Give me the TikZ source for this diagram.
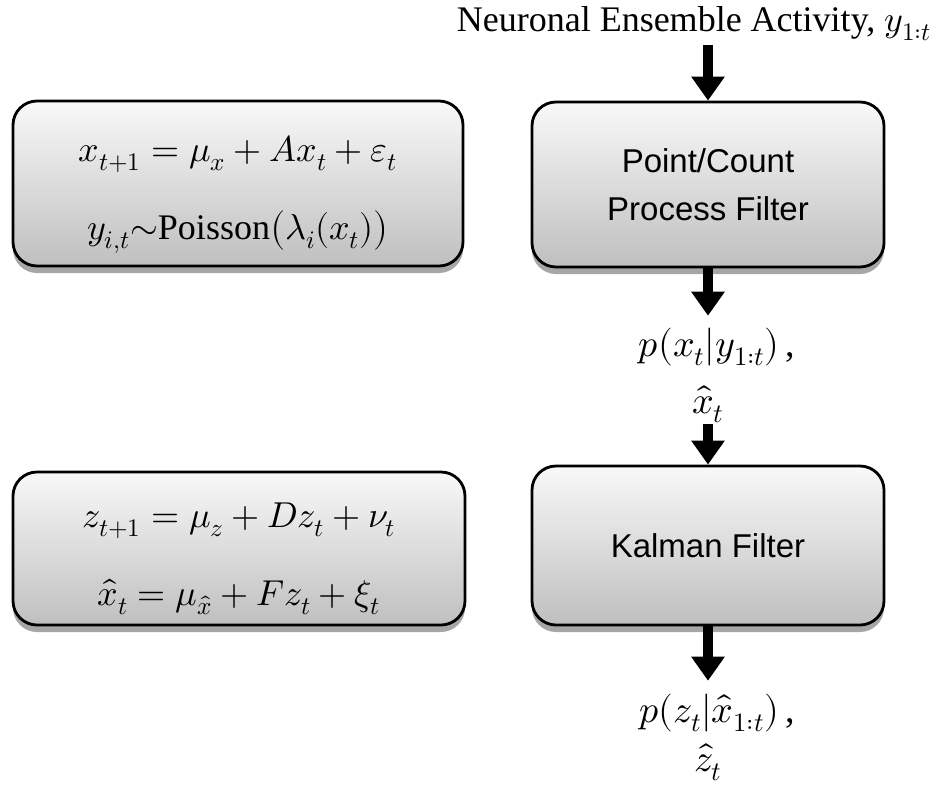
\documentclass[tikz,border=0pt]{standalone}
\usepackage{fontspec}
\usepackage{unicode-math}
\setmainfont{Liberation Serif}
\setmathfont{Latin Modern Math}
\newfontfamily\boxfont{Liberation Sans}
\usetikzlibrary{arrows.meta,shadows}
\begin{document}
\begin{tikzpicture}[x=1pt,y=-1pt,
 box/.style={draw=black, line width=2.8pt, rounded corners=24pt,
   top color=gray!5, bottom color=gray!50,
   drop shadow={shadow xshift=0pt, shadow yshift=-7pt, opacity=0.35, fill=black},
   align=center, inner sep=0pt},
 eq/.style={font=\fontsize{36}{42}\selectfont},
 sans/.style={font=\boxfont\fontsize{33}{48}\selectfont},
 lbl/.style={font=\fontsize{38}{44}\selectfont, inner sep=0pt},
 bigarrow/.style={line width=10pt, -{Triangle[width=32pt,length=24pt]}},
]
\useasboundingbox[fill=white] (0,0) rectangle (945,785);

% boxes
\node[box, eq, minimum width=450pt, minimum height=165pt] (m1) at (238,183.5)
  {\rule{0pt}{48pt}$x_{t+1}=\mu_x+Ax_t+\varepsilon_t$\\[36pt]$y_{i,t}{\sim}\mathrm{Poisson}\bigl(\lambda_i(x_t)\bigr)$};
\node[box, sans, minimum width=352pt, minimum height=165pt] (r1) at (708,184.5)
  {Point/Count\\Process Filter};
\node[box, eq, minimum width=452pt, minimum height=153pt] (m2) at (239,548.5)
  {\rule{0pt}{46pt}$z_{t+1}=\mu_z+Dz_t+\nu_t$\\[36pt]$\hat{x}_t=\mu_{\hat{x}}+Fz_t+\xi_t$};
\node[box, sans, minimum width=352pt, minimum height=159pt] (r2) at (708,545.5)
  {Kalman Filter};

% labels
\node[font=\fontsize{36}{42}\selectfont, inner sep=0pt] (top) at (694,24)
  {Neuronal Ensemble Activity, $y_{1:t}$};
\node[lbl] (px) at (717,347) {$p(x_t|y_{1:t})$\,,};
\node[lbl] (xh) at (708,404) {$\hat{x}_t$};
\node[lbl] (pz) at (717,713) {$p(z_t|\hat{x}_{1:t})$\,,};
\node[lbl] (zh) at (708,762) {$\hat{z}_t$};

% arrows
\draw[bigarrow, shorten <=4pt] (top.south -| r1.north) -- (r1.north);
\draw[bigarrow, shorten >=12pt] (r1.south) -- (r1.south |- px.north);
\draw[bigarrow, shorten <=1pt] (xh.south -| r2.north) -- (r2.north);
\draw[bigarrow, shorten >=13pt] (r2.south) -- (r2.south |- pz.north);
\end{tikzpicture}
\end{document}
